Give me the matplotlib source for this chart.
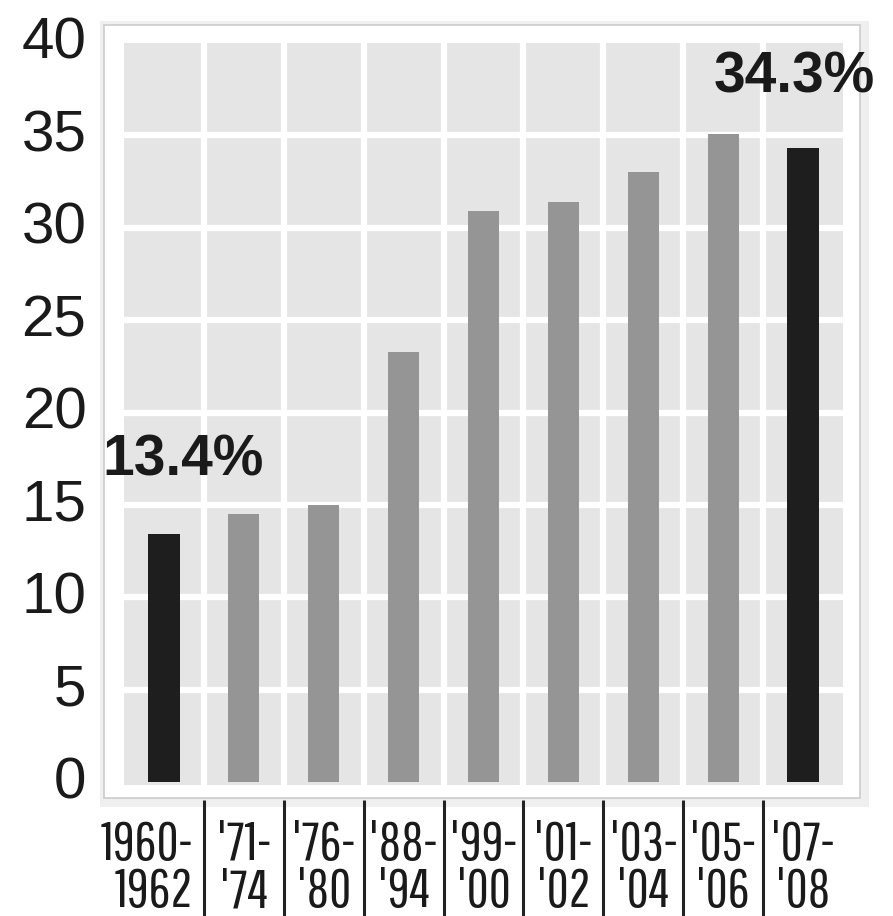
import numpy as np
import matplotlib.pyplot as plt
from matplotlib.patches import Rectangle
from matplotlib.transforms import ScaledTranslation, blended_transform_factory

# värden
labels_top = ['1960-', "'71-", "'76-", "'88-", "'99-", "'01-", "'03-", "'05-", "'07-"]
labels_bottom = ['1962', "'74", "'80", "'94", "'00", "'02", "'04", "'06", "'08"]
values = [13.4, 14.5, 15.0, 23.3, 30.9, 31.4, 33.0, 35.1, 34.3]
highlight = [True, False, False, False, False, False, False, False, True]
y_ticks = [0, 5, 10, 15, 20, 25, 30, 35, 40]
callouts = {0: '13.4%', 8: '34.3%'}

W, H = 893, 916
fig = plt.figure(figsize=(W / 100, H / 100), dpi=100)

# ram med skugga (pixlar -> figurkoordinater)
def px_rect(x0, y0, x1, y1, **kw):
    return Rectangle((x0 / W, 1 - y1 / H), (x1 - x0) / W, (y1 - y0) / H,
                     transform=fig.transFigure, **kw)

fig.patches.append(px_rect(100, 21, 869, 807, facecolor='#efefef', edgecolor='none', zorder=-2))
fig.patches.append(px_rect(104, 25, 860, 798, facecolor='white', edgecolor='#cccccc',
                           linewidth=1.2, zorder=-1))

ax = fig.add_axes([124 / W, 1 - 785 / H, (843 - 124) / W, (785 - 43) / H], zorder=1)
ax.set_facecolor('#e5e5e5')
ax.set_xlim(-0.5, len(values) - 0.5)
ax.set_ylim(-0.16, 40)

# vita rutnätslinjer
for i in range(len(values) - 1):
    ax.axvline(i + 0.5, color='white', lw=4.5, zorder=1)
for t in y_ticks[1:-1]:
    ax.axhline(t, color='white', lw=4.5, zorder=1)

x = np.arange(len(values))
colors = ['#1e1e1e' if h else '#959595' for h in highlight]
ax.bar(x, values, width=0.39, color=colors, zorder=2)

for s in ax.spines.values():
    s.set_visible(False)
ax.set_xticks([])
ax.set_yticks(y_ticks)
ax.set_yticklabels([str(t) for t in y_ticks], family=['Liberation Sans', 'DejaVu Sans'],
                   fontsize=42, color='#1a1a1a')
ax.tick_params(axis='y', length=0, pad=27)
for lab in ax.get_yticklabels():
    lab.set_transform(lab.get_transform() + ScaledTranslation(0, 0.05, fig.dpi_scale_trans))

# etiketter för första och sista stapeln
heavy = ['Liberation Sans', 'DejaVu Sans']
ax.text(-0.77, 16.6, callouts[0], fontsize=41, fontweight='bold', color='#1a1a1a',
        family=heavy, ha='left', va='baseline', zorder=3)
ax.text(8.9, 37.3, callouts[8], fontsize=41, fontweight='bold', color='#1a1a1a',
        family=heavy, ha='right', va='baseline', zorder=3, clip_on=False)

# x-etiketter under ramen med avdelare
tr = blended_transform_factory(ax.transData, fig.transFigure)
narrow = ['Pathway Gothic One', 'Barlow Condensed', 'Liberation Sans', 'DejaVu Sans']
for i in range(len(values)):
    if i == 0:
        xi, ha = 0.36, 'right'
    else:
        xi, ha = i, 'center'
    ax.text(xi, 1 - 860 / H, labels_top[i], transform=tr, ha=ha, va='baseline',
            fontsize=39, family=narrow, color='#1a1a1a', clip_on=False)
    ax.text(xi, 1 - 907 / H, labels_bottom[i], transform=tr, ha=ha, va='baseline',
            fontsize=39, family=narrow, color='#1a1a1a', clip_on=False)
for i in range(len(values) - 1):
    ax.plot([i + 0.5, i + 0.5], [0, 1 - 800 / H], transform=tr, color='#222222',
            lw=2.2, clip_on=False, solid_capstyle='butt')

fig.savefig('out.png', dpi=100)
